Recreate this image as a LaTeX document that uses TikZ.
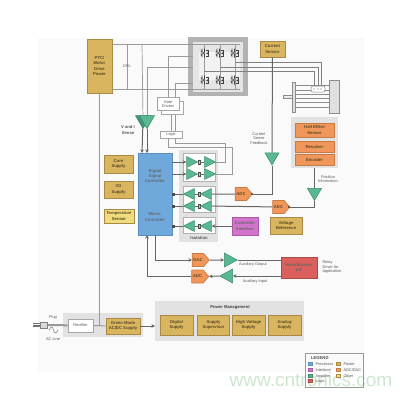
\documentclass[tikz,border=0pt]{standalone}
\usepackage{fontspec}
\setmainfont{Liberation Sans}
\usetikzlibrary{arrows.meta,shapes.geometric,shapes.symbols}
\definecolor{tanfill}{HTML}{D9B560}
\definecolor{tanedge}{HTML}{A88A45}
\definecolor{greenfill}{HTML}{58B892}
\definecolor{greenedge}{HTML}{3C8C6C}
\definecolor{orangefill}{HTML}{F0965A}
\definecolor{orangeedge}{HTML}{C87B42}
\definecolor{panelgray}{HTML}{E2E2E2}
\definecolor{wiregray}{HTML}{9A9A9A}
\definecolor{darkwire}{HTML}{666666}
\definecolor{boxtext}{HTML}{5A4A25}
\definecolor{dspfill}{HTML}{6FA9DC}
\definecolor{dspedge}{HTML}{5B8FBE}
\definecolor{pinkfill}{HTML}{D274CC}
\definecolor{pinkedge}{HTML}{A85AA3}
\definecolor{redfill}{HTML}{DB5F5C}
\definecolor{rededge}{HTML}{A84B48}
\definecolor{yellowfill}{HTML}{EFDC7C}
\definecolor{markgreen}{HTML}{CDE6CD}
\tikzset{
  wh/.style 2 args={minimum width=#1,minimum height=#2,inner sep=0pt,align=center},
  tiny/.style={font=\fontsize{3.9}{4.6}\selectfont,text=black!65},
  boxlabel/.style={font=\bfseries\fontsize{4.2}{5.4}\selectfont,text=boxtext},
  tanbox/.style={draw=tanedge,line width=.8pt,fill=tanfill,boxlabel},
  orangebox/.style={draw=orangeedge,line width=.8pt,fill=orangefill,boxlabel},
  whitebox/.style={draw=black!35,line width=.7pt,fill=white,tiny},
  panel/.style={fill=panelgray,draw=none},
  wire/.style={draw=wiregray,line width=.7pt},
  bus/.style={draw=darkwire,line width=1pt},
  tip/.style={-{Stealth[length=3.5pt,width=3.5pt]}},
  conv/.style={signal,signal to=east,signal pointer angle=100,draw=orangeedge,line width=.6pt,fill=orangefill,boxlabel,wh={17}{13}},
  amp/.style={isosceles triangle,isosceles triangle stretches,shape border rotate=#1,draw=greenedge,line width=.5pt,fill=greenfill,inner sep=0pt},
  ampsmall/.style={amp=#1,minimum width=11,minimum height=11},
  link/.style={draw=black!70,fill=black!25,line width=.4pt,minimum width=2.5,minimum height=4,inner sep=0pt},
  swatch/.style={minimum width=3.5,minimum height=3,inner sep=0pt,line width=.3pt},
  igbt/.pic={
    \draw[black!75,line width=.55pt] (-3,-4.5) -- (-3,-1.5) -- (-.5,1) -- (-.5,4.5)
      (-3,4) -- (-3,1.5) -- (-.5,-1) -- (-.5,-4.5) (-3.8,-2.5) -- (-3.8,2.5);
    \draw[black!75,line width=.55pt] (1.2,-3) -- (3,-3) -- (3,3) -- (1.2,3);
    \fill[black!75] (1.2,1) -- (3.4,1) -- (2.3,-.8) -- cycle;
  }
}

\begin{document}
\begin{tikzpicture}[x=1pt,y=-1pt]
  \useasboundingbox (0,0) rectangle (413,400);
  \fill[black!2] (38,38) rectangle (364,372);

  % panels
  \fill[black!30] (188,37) rectangle (248,96);
  \fill[black!10] (193,42) rectangle (243,92);
  \fill[black!5] (199,52) rectangle (240,80);
  \fill[panel] (179,150) rectangle (218,242);
  \fill[panel] (291,117) rectangle (338,168);
  \fill[panel] (63,313) rectangle (143,337);
  \fill[panel] (155,301) rectangle (304,341);
  \fill[white,draw=black!30,line width=.4pt] (183,153) rectangle (215,181);
  \fill[white,draw=black!30,line width=.4pt] (183,186) rectangle (215,212);
  \fill[white,draw=black!30,line width=.4pt] (183,217) rectangle (215,233);

  % boxes
  \node (ptc) [tanbox,wh={25}{54}] at (99.5,66) {PTC/\\Motor\\Drive\\Power};
  \node (csense) [tanbox,wh={25}{16}] at (272.5,49) {Current\\Sensor};
  \node (drvback) [whitebox,wh={22}{13}] at (172,108) {};
  \node (drivers) [whitebox,wh={22}{13}] at (168,104) {Gate\\Drivers};
  \node (logic) [whitebox,wh={22}{7}] at (171,134.5) {Logic};
  \node (dsp) [draw=dspedge,line width=.8pt,fill=dspfill,wh={34}{82}] at (155,194) {};
  \node (dsptext) [boxlabel,text=black!60,align=center] at (155,176) {Digital\\Signal\\Controller};
  \node (mcutext) [boxlabel,text=black!60,align=center] at (155,217) {Micro-\\Controller};
  \node (core) [tanbox,wh={29}{18}] at (118.5,164) {Core\\Supply};
  \node (iosup) [tanbox,wh={29}{17}] at (118.5,189.5) {I/O\\Supply};
  \node (temp) [draw=tanedge,line width=.6pt,fill=yellowfill,wh={30}{14},boxlabel] at (119,216) {Temperature\\Sensor};
  \node (hall) [orangebox,wh={39}{14}] at (314.5,130) {Hall Effect\\Sensor};
  \node (resolver) [orangebox,wh={39}{11}] at (314.5,146.5) {Resolver};
  \node (encoder) [orangebox,wh={39}{11}] at (314.5,159.5) {Encoder};
  \node (ctrlif) [draw=pinkedge,line width=.8pt,fill=pinkfill,wh={26}{18},boxlabel,text=black!60] at (245,226) {Controller\\Interface};
  \node (vref) [tanbox,wh={32}{17}] at (286,225.5) {Voltage\\Reference};
  \node (lift) [draw=rededge,line width=.8pt,fill=redfill,wh={36}{21},boxlabel,text=black!60] at (299,267.5) {Microfilament\\L/F};
  \node (rectifier) [whitebox,wh={25}{13},line width=.9pt] at (80.5,325.5) {Rectifier};
  \node (greenmode) [tanbox,wh={34}{16}] at (123,326) {Green Mode\\AC/DC Supply};
  \node (digital) [tanbox,wh={33}{20}] at (176.5,325) {Digital\\Supply};
  \node (superv) [tanbox,wh={32}{20}] at (213.5,325) {Supply\\Supervisor};
  \node (hvolt) [tanbox,wh={33}{20}] at (248.5,325) {High Voltage\\Supply};
  \node (analog) [tanbox,wh={33}{20}] at (284.5,325) {Analog\\Supply};

  % amplifiers
  \node (viback) [amp=270,minimum width=15,minimum height=13,fill=greenfill!80!black] at (143,120) {};
  \node (vifront) [amp=270,minimum width=15,minimum height=13] at (147,120) {};
  \node (ampcur) [amp=270,minimum width=14,minimum height=12] at (272,157) {};
  \node (amppos) [amp=270,minimum width=14,minimum height=12] at (314.5,192.5) {};
  \node (ampout) [amp=0,minimum width=14,minimum height=13] at (228.5,260) {};
  \node (ampin) [amp=180,minimum width=14,minimum height=13] at (228.5,276) {};

  \node (isoa) [ampsmall=0] at (190,162) {};
  \node (isoamid) [link] at (199,162) {};
  \node (isoaout) [ampsmall=0] at (208,162) {};
  \node (isob) [ampsmall=0] at (190,174) {};
  \node (isobmid) [link] at (199,174) {};
  \node (isobout) [ampsmall=0] at (208,174) {};
  \node (isoc) [ampsmall=180] at (191,194) {};
  \node (isocmid) [link] at (199,194) {};
  \node (isocin) [ampsmall=180] at (208,194) {};
  \node (isod) [ampsmall=180] at (191,206) {};
  \node (isodmid) [link] at (199,206) {};
  \node (isodin) [ampsmall=180] at (208,206) {};
  \node (isoe) [ampsmall=180] at (191,226) {};
  \node (isoemid) [link] at (199,226) {};
  \node (isoein) [ampsmall=180] at (208,226) {};

  % converters
  \node (adccur) [conv] at (241,194) {ADC};
  \node (adcpos) [conv] at (278.5,207) {ADC};
  \node (dac) [conv] at (198,260) {DAC};
  \node (adcaux) [conv] at (197.5,276.5) {ADC};

  % bridge
  \coordinate (railtop) at (240,44);
  \coordinate (railbot) at (240,89);
  \coordinate (gatea) at (193,56);
  \coordinate (gateb) at (193,83);
  \coordinate (gatebend) at (175,98);
  \coordinate (sensetap) at (193,67);
  \coordinate (phasea) at (321,62);
  \coordinate (phaseb) at (318,67);
  \coordinate (phasec) at (314,71);
  \coordinate (dplnode) at (127,44);
  \coordinate (dplend) at (127,89);
  \coordinate (vitap) at (142,44);
  \draw[wire] (ptc.east |- railtop) -- (railtop);
  \draw[wire] (ptc.east |- railbot) -- (railbot);
  \draw[wire] (dplnode) -- (dplend);
  \draw[wire] (vitap) -- (viback);
  \draw[wire] (sensetap) -| (vifront);
  \draw[wire] (gatea) -| (drivers);
  \draw[wire] (gateb) -| (gatebend);
  \draw[wire] (204,44) -- (204,89);
  \draw[wire] (220,44) -- (220,89);
  \draw[wire] (235,44) -- (235,89);
  \draw[black!50,line width=.6pt] (235,62) -- (phasea) -- (321,86);
  \draw[black!50,line width=.6pt] (220,67) -- (phaseb) -- (318,86);
  \draw[black!50,line width=.6pt] (204,71) -- (phasec) -- (314,86);
  \pic at (205,53) {igbt};
  \pic at (220,53) {igbt};
  \pic at (235,53) {igbt};
  \pic at (205,80) {igbt};
  \pic at (220,80) {igbt};
  \pic at (235,80) {igbt};

  % gate logic
  \coordinate (logintop) at (175,114.5);
  \coordinate (logouta) at (168,138);
  \coordinate (logoutb) at (175,138);
  \coordinate (loopa) at (232,147);
  \coordinate (loopb) at (225,143);
  \draw[wire] (drvback.south -| logic.north) -- (logic.north);
  \draw[wire] (logintop) -- (logintop |- logic.north);
  \draw[wire] (logouta) |- (loopa) |- (isobout);
  \draw[wire] (logoutb) |- (loopb) |- (isoaout);

  % sense and feedback
  \coordinate (mcuback) at (142,153);
  \coordinate (mcufront) at (147,153);
  \draw[bus,tip] (viback) -- (mcuback);
  \draw[bus,tip] (vifront) -- (mcufront);
  \draw[bus] (csense) -- (ampcur);
  \draw[bus] (ampcur) |- (adccur.east);
  \draw[bus] (encoder.south |- amppos.north) -- (amppos);
  \draw[bus] (314.5,168) -- (amppos);
  \draw[bus] (amppos) |- (adcpos.east);
  \fill[black!75] (252,194) circle (1.1);
  \fill[black!75] (289,207) circle (1.1);

  % isolation rows
  \draw[bus,tip] (dsp.east |- isoa) -- (isoa);
  \draw[bus,tip] (dsp.east |- isob) -- (isob);
  \draw[bus] (isoc) -- (dsp.east |- isoc);
  \draw[bus] (isod) -- (dsp.east |- isod);
  \draw[bus] (isoe) -- (dsp.east |- isoe);
  \fill[black!70] (172,192.5) rectangle (175,195.5);
  \fill[black!70] (172,204.5) rectangle (175,207.5);
  \fill[black!70] (172,224.5) rectangle (175,227.5);
  \draw[black!60,line width=.5pt] (isoa) -- (isoamid) -- (isoaout);
  \draw[black!60,line width=.5pt] (isob) -- (isobmid) -- (isobout);
  \draw[black!60,line width=.5pt] (isoc) -- (isocmid) -- (isocin);
  \draw[black!60,line width=.5pt] (isod) -- (isodmid) -- (isodin);
  \draw[black!60,line width=.5pt] (isoe) -- (isoemid) -- (isoein);
  \draw[bus] (adccur) -- (isocin);
  \draw[bus] (adcpos) -- (isodin);
  \draw[bus,tip] (ctrlif) -- (isoein);

  % auxiliary paths
  \coordinate (mcuin) at (147,235);
  \draw[bus,tip] (dsp.south) |- (dac);
  \draw[bus,tip] (dac) -- (ampout);
  \draw[bus] (ampout) -- (lift.west |- ampout);
  \draw[bus,tip] (lift.west |- ampin) -- (ampin);
  \draw[bus,tip] (ampin) -- (adcaux);
  \draw[bus,tip] (adcaux) -| (mcuin);

  % supply
  \coordinate (plugend) at (47,325);
  \draw[black!40,line width=2pt] (plugend) -- (rectifier);
  \draw[black!55,line width=.5pt] (33,323.5) -- (40,323.5) (33,325) -- (40,325) (33,326.5) -- (40,326.5);
  \node (plug) [draw=black!50,fill=black!15,minimum width=7,minimum height=6,inner sep=0pt,line width=.5pt] at (43.5,325) {};
  \draw[wire,line width=1pt] (rectifier) -- (greenmode);
  \draw[wire,line width=1pt] (ptc.south) -- (ptc.south |- rectifier);
  \draw[bus,tip] (greenmode) -- (greenmode -| 155,0);
  \draw[black!55,line width=.5pt] (49,330) .. controls (51,326) and (52.5,326) .. (53.5,330) .. controls (54.5,334) and (56,334) .. (58,330);

  % motor
  \fill[black!12,draw=black!45,line width=.5pt] (329,80) rectangle (339,113);
  \fill[black!12,draw=black!45,line width=.5pt] (292,82) rectangle (295,112);
  \fill[black!8,draw=black!45,line width=.4pt] (283,95) rectangle (292,98);
  \draw[black!45,line width=.5pt] (295,85) -- (329,85);
  \draw[black!45,line width=.5pt] (295,90) -- (329,90);
  \draw[black!45,line width=.5pt] (295,94) -- (329,94);
  \draw[black!45,line width=.5pt] (295,98) -- (329,98);
  \draw[black!45,line width=.5pt] (295,102) -- (329,102);
  \draw[black!45,line width=.5pt] (295,107) -- (329,107);
  \draw[black!50,fill=white,line width=.5pt,rounded corners=2pt] (311,86) rectangle (325,92);
  \fill[black!60] (314,89) circle (.6) (318,89) circle (.6) (321,89) circle (.6);

  % texts
  \node (dpltxt) [tiny] at (127,66) {DPL};
  \node (vitxt) [boxlabel,text=black!65,align=center] at (128,130) {V and I\\Sense};
  \node (fbtxt) [tiny,align=center] at (259,138.5) {Current\\Sense\\Feedback};
  \node (postxt) [tiny,align=center] at (328,179) {Position\\Information};
  \node (isotxt) [boxlabel,text=black!65] at (199,238) {Isolation};
  \node (auxouttxt) [tiny] at (253,264) {Auxiliary Output};
  \node (auxintxt) [tiny] at (255,281) {Auxiliary Input};
  \node (relaytxt) [tiny,align=left,anchor=west] at (319,267) {Relay\\Driver for\\Application};
  \node (plugtxt) [tiny] at (53,317.5) {Plug};
  \node (actxt) [tiny] at (53,339.5) {AC Line};
  \node (pmtxt) [boxlabel,text=black!75] at (230,307) {Power Management};

  % site mark under the legend
  \node (site) [font=\fontsize{19}{19}\selectfont,text=markgreen,inner sep=0pt] at (311,380) {www.cntronics.com};

  % legend
  \node (legend) [draw=black!40,line width=.4pt,minimum width=58,minimum height=34,inner sep=0pt] at (334.5,370) {};
  \node (legtitle) [boxlabel,text=black!70,anchor=west] at (307.5,358) {LEGEND};
  \node (swproc) [swatch,fill=dspfill,draw=dspedge] at (310,364) {};
  \node (swif) [swatch,fill=pinkfill,draw=pinkedge] at (310,370) {};
  \node (swamp) [swatch,fill=greenfill,draw=greenedge] at (310,376) {};
  \node (swlogic) [swatch,fill=redfill,draw=rededge] at (310,381) {};
  \node (swpow) [swatch,fill=tanfill,draw=tanedge] at (338,364) {};
  \node (swadc) [swatch,fill=orangefill,draw=orangeedge] at (338,370) {};
  \node (swother) [swatch,fill=yellowfill,draw=tanedge] at (338,376) {};
  \node (txproc) [tiny,anchor=west] at (312,364) {Processor};
  \node (txif) [tiny,anchor=west] at (312,370) {Interface};
  \node (txamp) [tiny,anchor=west] at (312,376) {Amplifier};
  \node (txlogic) [tiny,anchor=west] at (312,381) {Logic};
  \node (txpow) [tiny,anchor=west] at (340,364) {Power};
  \node (txadc) [tiny,anchor=west] at (340,370) {ADC/DAC};
  \node (txother) [tiny,anchor=west] at (340,376) {Other};
\end{tikzpicture}
\end{document}
